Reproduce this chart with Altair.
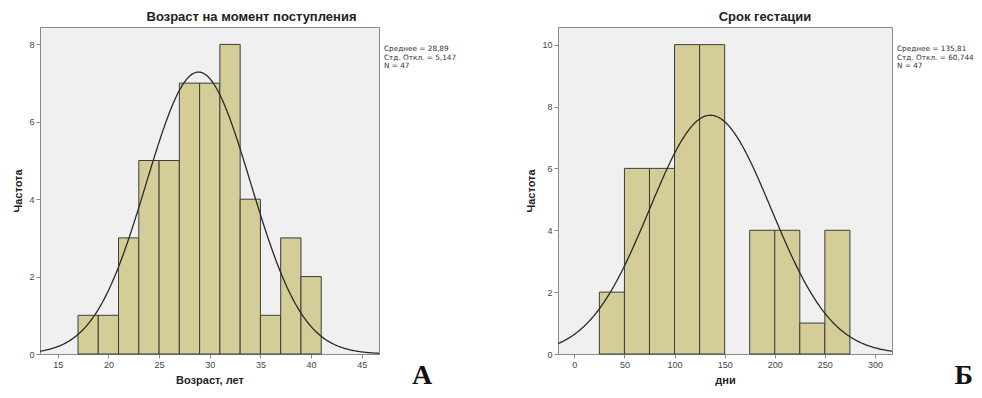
import altair as alt
import pandas as pd

# ---------- data ----------
a_bin_start = [17, 19, 21, 23, 25, 27, 29, 31, 33, 35, 37, 39]
a_counts = [1, 1, 3, 5, 5, 7, 7, 8, 4, 1, 3, 2]
a_bin_width = 2
a_mean, a_sd, a_n = 28.89, 5.147, 47
a_title = "Возраст на момент поступления"
a_xtitle = "Возраст, лет"
a_xticks = [15, 20, 25, 30, 35, 40, 45]
a_yticks = [0, 2, 4, 6, 8]
a_xdomain = [13.25, 46.7]
a_ydomain = [0, 8.45]
a_stats = ["Среднее = 28,89", "\u00a0Стд. Откл. = 5,147", "N = 47"]
a_letter = "A"

b_bin_start = [25, 50, 75, 100, 125, 150, 175, 200, 225, 250]
b_counts = [2, 6, 6, 10, 10, 0, 4, 4, 1, 4]
b_bin_width = 25
b_mean, b_sd, b_n = 135.81, 60.744, 47
b_title = "Срок гестации"
b_xtitle = "дни"
b_xticks = [0, 50, 100, 150, 200, 250, 300]
b_yticks = [0, 2, 4, 6, 8, 10]
b_xdomain = [-16.3, 317]
b_ydomain = [0, 10.57]
b_stats = ["Среднее = 135,81", "\u00a0Стд. Откл. = 60,744", "N = 47"]
b_letter = "Б"

y_title = "Частота"

BAR = "#d4cd98"
FONT = "Liberation Sans"
H = 327


def panel(starts, counts, bw, mean, sd, n, title, xtitle, xticks, yticks,
          xdom, ydom, stats, letter, W, title_dx, letter_x, letter_align):
    df = pd.DataFrame({"x0": starts, "count": counts})
    df["x1"] = df["x0"] + bw
    df = df[df["count"] > 0]
    xs = alt.Scale(domain=xdom, nice=False, zero=False)
    ys = alt.Scale(domain=ydom, nice=False)

    bars = alt.Chart(df).mark_rect(fill=BAR, stroke="#3c3c3c", strokeWidth=1).encode(
        x=alt.X("x0:Q", scale=xs,
                axis=alt.Axis(values=xticks, title=xtitle, format="d")),
        x2="x1:Q",
        y=alt.Y("count:Q", scale=ys,
                axis=alt.Axis(values=yticks, title=y_title, format="d")),
        y2=alt.datum(0),
    )

    step = (xdom[1] - xdom[0]) / 300.0
    expr = (f"{n * bw}/({sd}*sqrt(2*PI))*exp(-pow(datum.x-{mean},2)/(2*{sd}*{sd}))")
    curve = alt.Chart(alt.sequence(xdom[0], xdom[1] + step / 2, step, as_="x")).transform_calculate(
        y=expr
    ).mark_line(color="#2a2a2a", strokeWidth=1.3, clip=True).encode(
        x=alt.X("x:Q", scale=xs),
        y=alt.Y("y:Q", scale=ys),
    )

    stat_text = alt.Chart(alt.Data(values=[{}])).mark_text(
        text=stats, align="left", baseline="middle", fontSize=7.3, lineHeight=8.7,
        font="DejaVu Sans", color="#333333"
    ).encode(x=alt.value(W + 5), y=alt.value(22))

    letter_text = alt.Chart(alt.Data(values=[{}])).mark_text(
        text=letter, align=letter_align, baseline="middle", fontSize=28,
        font="Liberation Serif", fontWeight="bold", color="#111111"
    ).encode(x=alt.value(letter_x), y=alt.value(H + 22))

    return alt.layer(bars, curve, stat_text, letter_text).properties(
        width=W, height=H,
        title=alt.TitleParams(title, dx=title_dx, anchor="middle", fontSize=13,
                              fontWeight="bold", font=FONT, color="#222222", offset=3),
    )


pa = panel(a_bin_start, a_counts, a_bin_width, a_mean, a_sd, a_n, a_title, a_xtitle,
           a_xticks, a_yticks, a_xdomain, a_ydomain, a_stats, a_letter,
           339, 42, 339 + 43, "center")
pb = panel(b_bin_start, b_counts, b_bin_width, b_mean, b_sd, b_n, b_title, b_xtitle,
           b_xticks, b_yticks, b_xdomain, b_ydomain, b_stats, b_letter,
           334, 40, 415, "right")

chart = alt.hconcat(pa, pb, spacing=179, bounds="flush").properties(
    autosize=alt.AutoSizeParams(type="none"),
    padding={"left": 32, "top": 19, "right": 934, "bottom": 358},
).configure_view(
    fill="#f0f0f0", stroke="#8a8a8a", strokeWidth=1,
).configure_axis(
    grid=False, domainColor="#8a8a8a", tickColor="#8a8a8a", tickSize=4,
    labelFont=FONT, labelFontSize=9, labelColor="#444444", labelPadding=2,
    titleFont=FONT, titleFontSize=11, titleFontWeight="bold", titleColor="#222222",
    titlePadding=5,
)

chart.save("out.html", embed_options={"renderer": "svg", "actions": False})
